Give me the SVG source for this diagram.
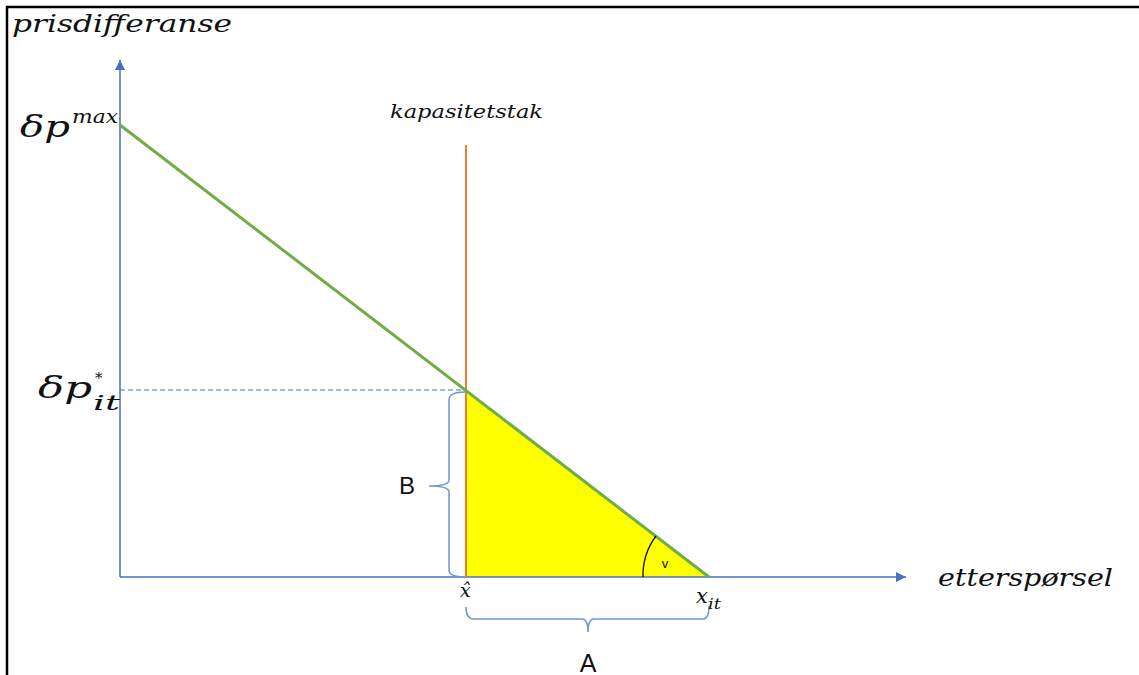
<svg xmlns="http://www.w3.org/2000/svg" width="1139" height="675" viewBox="0 0 1139 675">
<style>
.m{font-family:"DejaVu Serif","Liberation Serif",serif;font-style:italic;fill:#111}
.s{font-family:"Liberation Sans",Arial,sans-serif;fill:#111}
.ax{stroke:#4472C4;stroke-width:1.5;fill:none}
.br{stroke:#6F96D8;stroke-width:1.5;fill:none}
</style>
<defs>
<marker id="ah" viewBox="0 0 10 10" refX="10" refY="5" markerWidth="10" markerHeight="10" markerUnits="userSpaceOnUse" orient="auto">
<path d="M0,0 L10,5 L0,10 z" fill="#4472C4"/>
</marker>
</defs>
<rect width="1139" height="675" fill="#fff"/>
<path d="M7,675 V7 H1139" stroke="#000" stroke-width="2.5" fill="none"/>
<g id="triangle">
<polygon points="466,390 709,577 466,577" fill="#FFFF00"/>
</g>
<g id="connectors">
<line class="ax" x1="120" y1="577" x2="120" y2="60" marker-end="url(#ah)"/>
<line class="ax" x1="120" y1="577" x2="906" y2="577" marker-end="url(#ah)"/>
<line x1="120" y1="390" x2="466" y2="390" stroke="#4472C4" stroke-width="1" stroke-dasharray="5,3"/>
<line x1="466" y1="145" x2="466" y2="577" stroke="#ED7D31" stroke-width="2"/>
<line x1="120" y1="125" x2="709" y2="577" stroke="#70AD47" stroke-width="3"/>
<path d="M643,577 A66,66 0 0 1 656,536" stroke="#111" stroke-width="1.3" fill="none"/>
<path class="br" d="M465,392 Q449,392 449,400 V480 Q449,486 429,486 Q449,486 449,492 V570 Q449,577 465,577"/>
<path class="br" d="M466,607 Q466,619 474,619 H582 Q588,619 588,632 Q588,619 594,619 H703 Q709,619 709,606"/>
</g>
<g id="labels">
<text class="m" x="12" y="32" font-size="25" textLength="220" lengthAdjust="spacingAndGlyphs">prisdifferanse</text>
<text class="m" x="20" y="137" font-size="30" textLength="50" lengthAdjust="spacingAndGlyphs">δp</text>
<text class="m" x="72" y="123" font-size="19" textLength="46" lengthAdjust="spacingAndGlyphs">max</text>
<text class="m" x="390" y="118" font-size="19" textLength="153" lengthAdjust="spacingAndGlyphs">kapasitetstak</text>
<text class="m" x="38" y="398" font-size="30" textLength="54" lengthAdjust="spacingAndGlyphs">δp</text>
<text class="m" x="95" y="383" font-size="15">*</text>
<text class="m" x="93" y="410" font-size="20" textLength="27" lengthAdjust="spacingAndGlyphs">it</text>
<text class="m" x="460" y="597" font-size="19">x̂</text>
<text class="m" x="696" y="603" font-size="21">x</text>
<text class="m" x="708" y="609" font-size="15" textLength="13" lengthAdjust="spacingAndGlyphs">it</text>
<text class="m" x="938" y="586" font-size="25" textLength="175" lengthAdjust="spacingAndGlyphs">etterspørsel</text>
<text class="s" x="665" y="568" font-size="13" text-anchor="middle">v</text>
<text class="s" x="407" y="494" font-size="24" text-anchor="middle">B</text>
<text class="s" x="588" y="672" font-size="25" text-anchor="middle">A</text>
</g>
</svg>
